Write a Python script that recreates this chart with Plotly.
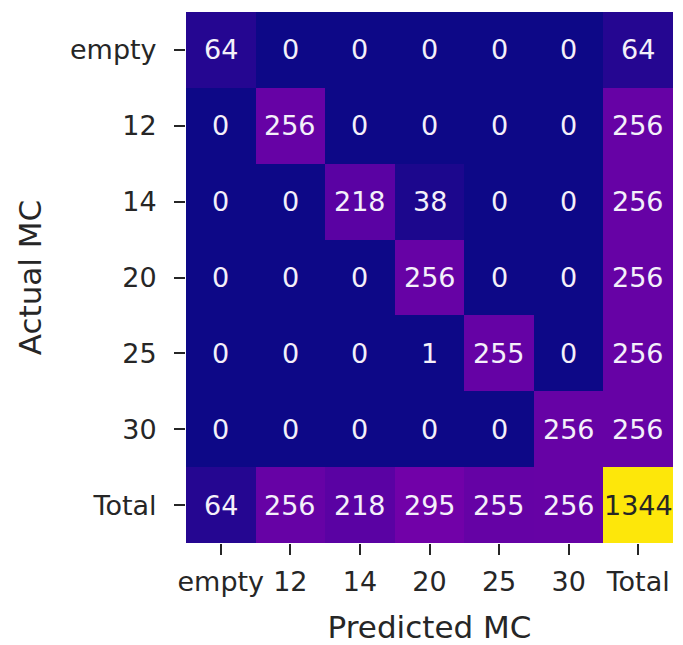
import plotly.graph_objects as go

categories_pred = ["empty", "12", "14", "20", "25", "30", "Total"]
categories_actual = ["empty", "12", "14", "20", "25", "30", "Total"]

row_empty = [64, 0, 0, 0, 0, 0, 64]
row_12 = [0, 256, 0, 0, 0, 0, 256]
row_14 = [0, 0, 218, 38, 0, 0, 256]
row_20 = [0, 0, 0, 256, 0, 0, 256]
row_25 = [0, 0, 0, 1, 255, 0, 256]
row_30 = [0, 0, 0, 0, 0, 256, 256]
row_total = [64, 256, 218, 295, 255, 256, 1344]

z = [row_empty, row_12, row_14, row_20, row_25, row_30, row_total]

FONT = "DejaVu Sans"

plasma_like = [
    [0.0, "#0d0887"], [0.111, "#46039f"], [0.222, "#7201a8"], [0.333, "#9c179e"],
    [0.444, "#bd3786"], [0.556, "#d8576b"], [0.667, "#ed7953"], [0.778, "#fb9f3a"],
    [0.889, "#fdca26"], [1.0, "#fde70a"],
]

fig = go.Figure(
    go.Heatmap(
        z=z,
        x=categories_pred,
        y=categories_actual,
        colorscale=plasma_like,
        zmin=0,
        zmax=1344,
        showscale=False,
        xgap=0,
        ygap=0,
        hoverinfo="skip",
    )
)

annotations = []
vmax = max(max(r) for r in z)
for i in range(len(categories_actual)):
    for j in range(len(categories_pred)):
        v = z[i][j]
        annotations.append(
            dict(
                x=j, y=i, xref="x", yref="y",
                text=str(v), showarrow=False,
                font=dict(family=FONT, size=27,
                          color="#262626" if v > 0.6 * vmax else "#f4f0fa"),
            )
        )

n = len(categories_pred)
fig.update_layout(
    width=675,
    height=637,
    margin=dict(l=178, r=10, t=4, b=102, pad=0, autoexpand=False),
    paper_bgcolor="white",
    plot_bgcolor="white",
    annotations=annotations,
    font=dict(family=FONT, color="#262626"),
)

fig.update_xaxes(
    type="category",
    categoryorder="array", categoryarray=categories_pred,
    range=[-0.5, n - 0.5],
    title=dict(text="Predicted MC", font=dict(family=FONT, size=31, color="#262626"), standoff=19),
    tickfont=dict(family=FONT, size=27, color="#262626"),
    tickangle=0,
    ticklabelstandoff=4,
    ticks="outside", ticklen=11, tickwidth=2, tickcolor="#262626",
    showgrid=False, zeroline=False, showline=False,
)
fig.update_yaxes(
    type="category",
    categoryorder="array", categoryarray=categories_actual,
    range=[n - 0.5, -0.5],
    title=dict(text="Actual MC", font=dict(family=FONT, size=31, color="#262626"), standoff=19),
    tickfont=dict(family=FONT, size=27, color="#262626"),
    ticklabelstandoff=12,
    ticks="outside", ticklen=11, tickwidth=2, tickcolor="#262626",
    showgrid=False, zeroline=False, showline=False,
)

fig.write_html("out.html")
